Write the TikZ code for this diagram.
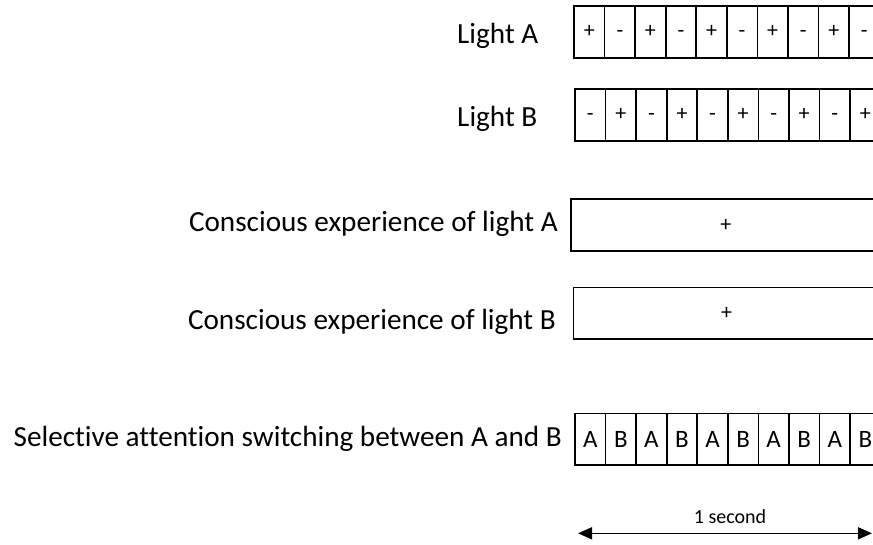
\documentclass[tikz,border=0pt]{standalone}
\usepackage{fontspec}
\setmainfont[Ligatures={NoCommon}]{Carlito}
\usetikzlibrary{arrows.meta}
\tikzset{
  label/.style={anchor=base east, inner sep=0pt, font=\fontsize{29.2}{34}\selectfont},
  cell/.style={draw, line width=1.6pt, rectangle, inner sep=0pt, anchor=north west,
    minimum width=30.5pt, minimum height=52pt},
  pm/.style={cell, font=\fontsize{22}{24}\selectfont},
  ab/.style={cell, font=\fontsize{25}{30}\selectfont},
  wide/.style={draw, line width=1.6pt, rectangle, inner sep=0pt, anchor=north west,
    minimum width=310pt, minimum height=52pt, font=\fontsize{22}{24}\selectfont},
  span/.style={line width=1.5pt, {Triangle[length=14pt,width=12pt]}-{Triangle[length=14pt,width=12pt]}}
}
\begin{document}
\begin{tikzpicture}[x=1pt,y=-1pt]
  \useasboundingbox (0,0) rectangle (873,545);
  \clip (0,0) rectangle (873,545);

  % row labels
  \node[label] (lA) at (538.5,43.3) {Light A};
  \node[label] (lB) at (537.5,126.7) {Light B};
  \node[label] (lCA) at (558,232) {Conscious experience of light A};
  \node[label] (lCB) at (556,330) {Conscious experience of light B};
  \node[label] (lS) at (562,446) {Selective attention switching between A and B};

  % light A: alternating on/off
  \foreach \i in {0,...,9} {
    \pgfmathsetmacro{\xx}{573.3+30.55*\i}
    \ifodd\i \def\sym{-}\else\def\sym{+}\fi
    \node[pm] (a\i) at (\xx,5) {\vphantom{+}\sym};
  }
  % light B: opposite phase
  \foreach \i in {0,...,9} {
    \pgfmathsetmacro{\xx}{574.3+30.55*\i}
    \ifodd\i \def\sym{+}\else\def\sym{-}\fi
    \node[pm] (b\i) at (\xx,88) {\vphantom{+}\sym};
  }

  % continuous experience
  \node[wide] (cA) at (570,198.3) {+};
  \node[wide, minimum height=51.6pt, minimum width=306pt] (cB) at (572.7,286.7) {+};

  % attention switching
  \foreach \i in {0,...,9} {
    \pgfmathsetmacro{\xx}{574.3+30.55*\i}
    \ifodd\i \def\sym{B}\else\def\sym{A}\fi
    \node[ab, minimum height=51.3pt] (s\i) at (\xx,412.7) {\sym};
  }

  % time span
  \coordinate (tL) at (578,533.3);
  \coordinate (tR) at (872,533.3);
  \draw[span] (tL) -- (tR);
  \node[font=\fontsize{20}{24}\selectfont, anchor=base, inner sep=0pt] (sec) at (730,523) {1 second};
\end{tikzpicture}
\end{document}
